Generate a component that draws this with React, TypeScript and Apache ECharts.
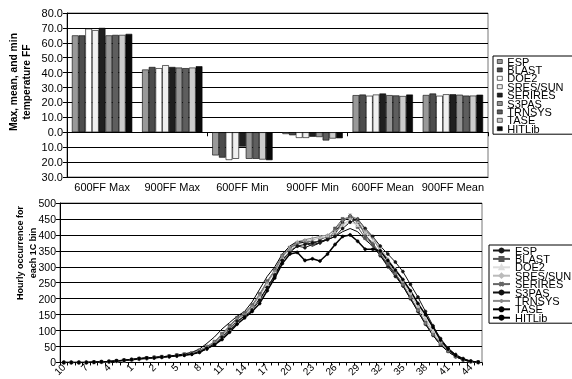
import React, { useEffect, useRef } from 'react';
import * as echarts from 'echarts';

const FONT = '"Liberation Sans", Arial, sans-serif';

const seriesNames = ['ESP', 'BLAST', 'DOE2', 'SRES/SUN', 'SERIRES', 'S3PAS', 'TRNSYS', 'TASE', 'HITLib'];

// Top chart: max / min / mean temperatures
const tempCategories = ['600FF Max', '900FF Max', '600FF Min', '900FF Min', '600FF Mean', '900FF Mean'];
const tempTicks = [-30, 80, 10];
const espTemps = [65.0, 42.1, -15.5, -1.2, 24.9, 25.0];
const blastTemps = [65.0, 43.8, -17.0, -2.0, 25.3, 26.0];
const doe2Temps = [69.5, 43.0, -18.6, -3.8, 24.5, 24.5];
const sresTemps = [68.5, 45.0, -17.8, -3.8, 25.3, 25.5];
const seriresTemps = [70.0, 43.8, -9.6, -3.0, 26.0, 25.5];
const s3pasTemps = [65.0, 43.4, -17.8, -3.2, 24.9, 25.2];
const trnsysTemps = [65.3, 43.0, -17.8, -5.5, 24.7, 24.6];
const taseTemps = [65.3, 43.4, -18.3, -4.2, 24.3, 24.6];
const hitlibTemps = [66.0, 44.3, -18.7, -4.0, 25.3, 25.2];
const tempData = [espTemps, blastTemps, doe2Temps, sresTemps, seriresTemps, s3pasTemps, trnsysTemps, taseTemps, hitlibTemps];

// Bottom chart: hourly occurrence per 1C bin
const binCategories = [-10, -9, -8, -7, -6, -5, -4, -3, -2, -1, 0, 1, 2, 3, 4, 5, 6, 7, 8, 9, 10, 11, 12, 13, 14, 15, 16, 17, 18, 19, 20, 21, 22, 23, 24, 25, 26, 27, 28, 29, 30, 31, 32, 33, 34, 35, 36, 37, 38, 39, 40, 41, 42, 43, 44, 45];
const binTicks = [0, 500, 50];
const espHours = [0, 0, 0, 0, 1, 1, 2, 4, 6, 8, 10, 12, 14, 16, 18, 20, 23, 26, 32, 42, 55, 75, 100, 125, 148, 170, 200, 235, 270, 320, 350, 365, 360, 370, 375, 390, 410, 440, 460, 440, 400, 370, 335, 300, 270, 240, 200, 160, 120, 85, 55, 35, 18, 8, 3, 0];
const blastHours = [0, 0, 0, 0, 1, 2, 3, 5, 7, 9, 12, 14, 16, 18, 20, 23, 26, 30, 38, 50, 65, 90, 115, 140, 155, 180, 215, 255, 290, 335, 360, 375, 380, 370, 385, 395, 420, 450, 455, 425, 390, 370, 340, 310, 280, 245, 205, 165, 125, 88, 58, 36, 19, 9, 3, 1];
const doe2Hours = [0, 0, 0, 0, 0, 1, 2, 4, 6, 8, 11, 13, 15, 17, 19, 22, 25, 28, 34, 46, 58, 80, 105, 130, 148, 172, 205, 245, 285, 330, 360, 380, 385, 390, 395, 400, 410, 430, 440, 430, 405, 385, 355, 325, 295, 260, 220, 180, 140, 100, 68, 45, 25, 13, 5, 1];
const sresHours = [0, 0, 0, 0, 1, 2, 3, 5, 7, 9, 12, 14, 16, 18, 20, 22, 25, 29, 36, 48, 62, 85, 110, 135, 150, 175, 210, 250, 285, 325, 350, 370, 380, 385, 390, 395, 405, 430, 450, 440, 410, 390, 360, 325, 290, 255, 215, 175, 135, 95, 62, 40, 22, 11, 4, 1];
const seriresHours = [0, 0, 0, 0, 1, 2, 3, 5, 7, 9, 12, 14, 15, 17, 19, 22, 25, 28, 35, 48, 62, 88, 112, 138, 152, 178, 212, 252, 288, 332, 358, 372, 378, 380, 378, 388, 402, 440, 462, 445, 400, 375, 340, 308, 278, 242, 202, 162, 122, 88, 58, 37, 19, 9, 3, 1];
const s3pasHours = [0, 0, 0, 0, 1, 2, 3, 5, 7, 9, 12, 14, 15, 17, 19, 22, 24, 27, 33, 45, 58, 80, 105, 130, 145, 165, 195, 235, 275, 320, 345, 365, 370, 375, 380, 385, 395, 420, 440, 450, 420, 395, 365, 340, 315, 285, 245, 205, 160, 115, 75, 45, 25, 12, 4, 1];
const trnsysHours = [0, 0, 0, 0, 1, 2, 3, 5, 7, 9, 12, 14, 16, 18, 20, 23, 26, 30, 37, 50, 64, 88, 112, 138, 152, 178, 212, 252, 288, 335, 360, 378, 385, 390, 395, 400, 415, 445, 460, 450, 415, 390, 350, 315, 280, 245, 205, 163, 123, 88, 58, 36, 19, 9, 3, 1];
const taseHours = [0, 0, 0, 0, 1, 2, 3, 5, 7, 9, 12, 14, 16, 18, 20, 23, 27, 32, 42, 60, 80, 105, 125, 145, 160, 190, 230, 270, 300, 340, 365, 380, 375, 365, 375, 385, 395, 410, 420, 410, 385, 365, 335, 305, 275, 240, 200, 160, 120, 85, 55, 34, 18, 8, 3, 1];
const hitlibHours = [0, 0, 0, 0, 1, 2, 3, 5, 7, 9, 12, 14, 15, 17, 19, 21, 23, 26, 32, 44, 55, 72, 95, 120, 140, 160, 185, 225, 265, 310, 340, 345, 320, 325, 318, 340, 370, 395, 400, 380, 355, 355, 350, 320, 290, 260, 225, 185, 150, 110, 70, 42, 22, 10, 4, 1];
const hourData = [espHours, blastHours, doe2Hours, sresHours, seriresHours, s3pasHours, trnsysHours, taseHours, hitlibHours];

const barColors = ['#999999', '#4d4d4d', '#ffffff', '#f0f0f0', '#1f1f1f', '#959595', '#5e5e5e', '#cccccc', '#0a0a0a'];
const lineColors = ['#1a1a1a', '#555555', '#dddddd', '#bbbbbb', '#666666', '#111111', '#8a8a8a', '#000000', '#000000'];
const crossPath = 'path://M0,0L10,10M10,0L0,10M5,0L5,10';
const plusPath = 'path://M5,0L5,10M0,5L10,5';
const lineSymbols = ['circle', 'rect', 'triangle', 'diamond', crossPath, 'circle', plusPath, 'none', 'circle'];

const LINE_SUFFIX = ' (hourly)';

export default function App() {
  const ref = useRef<HTMLDivElement>(null);

  useEffect(() => {
    if (!ref.current) return;
    const chart = echarts.init(ref.current, undefined, { renderer: 'svg' });

    const absFmt1 = (v: number) => Math.abs(v).toFixed(1);

    const barSeries = seriesNames.map((name, i) => ({
      name,
      type: 'bar',
      xAxisIndex: 0,
      yAxisIndex: 0,
      data: tempData[i],
      barGap: '0%',
      barCategoryGap: '14%',
      itemStyle: { color: barColors[i], borderColor: '#000', borderWidth: 0.6 },
    }));

    const lineSeries = seriesNames.map((name, i) => ({
      name: name + LINE_SUFFIX,
      type: 'line',
      xAxisIndex: 2,
      yAxisIndex: 1,
      data: hourData[i],
      symbol: lineSymbols[i],
      symbolSize: 3,
      showSymbol: lineSymbols[i] !== 'none',
      lineStyle: { color: lineColors[i], width: i === 8 ? 1.5 : 1 },
      itemStyle: { color: lineColors[i], borderColor: lineColors[i], borderWidth: 0.6 },
    }));

    chart.setOption({
      animation: false,
      textStyle: { fontFamily: FONT },
      grid: [
        { left: 67, top: 13, width: 421, height: 164, show: true, borderColor: '#777', borderWidth: 1, backgroundColor: 'transparent' },
        { left: 60, top: 203, width: 422, height: 161, show: true, borderColor: '#777', borderWidth: 1, backgroundColor: 'transparent' },
      ],
      legend: [
        {
          data: seriesNames,
          orient: 'vertical',
          left: 493,
          top: 56,
          icon: 'rect',
          itemWidth: 5,
          itemHeight: 4,
          itemGap: -2.6,
          padding: [0, 30, 0, 4],
          borderColor: '#000',
          borderWidth: 1,
          textStyle: { fontFamily: FONT, fontSize: 11, color: '#000' },
          itemStyle: { borderColor: '#000', borderWidth: 0.6 },
        },
        {
          data: seriesNames.map((n) => n + LINE_SUFFIX),
          orient: 'vertical',
          left: 489,
          top: 245,
          itemWidth: 17,
          itemHeight: 5,
          itemGap: -2.6,
          padding: [0, 30, 0, 3],
          borderColor: '#000',
          borderWidth: 1,
          formatter: (n: string) => n.replace(LINE_SUFFIX, ''),
          textStyle: { fontFamily: FONT, fontSize: 11, color: '#000' },
        },
      ],
      xAxis: [
        {
          gridIndex: 0,
          type: 'category',
          data: tempCategories,
          position: 'bottom',
          axisLine: { onZero: false, lineStyle: { color: '#000', width: 1 } },
          axisTick: { show: false },
          axisLabel: { interval: 0, fontSize: 11, color: '#000', margin: 4, fontFamily: FONT },
        },
        {
          gridIndex: 0,
          type: 'category',
          data: tempCategories,
          position: 'bottom',
          axisLine: { onZero: true, lineStyle: { color: '#000', width: 1 } },
          axisTick: { show: true, length: 4, lineStyle: { color: '#000' } },
          axisLabel: { show: false },
        },
        {
          gridIndex: 1,
          type: 'category',
          data: binCategories,
          boundaryGap: true,
          axisLine: { lineStyle: { color: '#000', width: 1 } },
          axisTick: { show: true, interval: 0, length: 3, lineStyle: { color: '#000' } },
          axisLabel: {
            interval: 2,
            rotate: 45,
            fontSize: 10,
            color: '#000',
            margin: 3,
            fontFamily: FONT,
            formatter: (v: string) => String(Math.abs(Number(v))),
          },
        },
      ],
      yAxis: [
        {
          gridIndex: 0,
          type: 'value',
          min: tempTicks[0],
          max: tempTicks[1],
          interval: tempTicks[2],
          axisLine: { show: true, lineStyle: { color: '#000' } },
          axisTick: { show: true, length: 4, lineStyle: { color: '#000' } },
          axisLabel: { formatter: absFmt1, fontSize: 11, color: '#000', margin: 4, fontFamily: FONT },
          splitLine: { show: true, lineStyle: { color: '#000', width: 1.2 } },
        },
        {
          gridIndex: 1,
          type: 'value',
          min: binTicks[0],
          max: binTicks[1],
          interval: binTicks[2],
          axisLine: { show: true, lineStyle: { color: '#000' } },
          axisTick: { show: true, length: 4, lineStyle: { color: '#000' } },
          axisLabel: { fontSize: 10.5, color: '#000', margin: 4, fontFamily: FONT },
          splitLine: { show: true, lineStyle: { color: '#000', width: 1.2 } },
        },
      ],
      graphic: [
        {
          type: 'text',
          x: 20,
          y: 82,
          rotation: Math.PI / 2,
          style: {
            text: 'Max, mean, and min\ntemperature FF',
            font: `bold 10.3px ${FONT}`,
            fill: '#000',
            align: 'center',
            verticalAlign: 'middle',
            lineHeight: 13,
          },
        },
        {
          type: 'text',
          x: 26,
          y: 253,
          rotation: Math.PI / 2,
          style: {
            text: 'Hourly occurrence for\neach 1C bin',
            font: `bold 9px ${FONT}`,
            fill: '#000',
            align: 'center',
            verticalAlign: 'middle',
            lineHeight: 13,
          },
        },
      ],
      series: [...barSeries, ...lineSeries],
    });

    return () => chart.dispose();
  }, []);

  return <div ref={ref} style={{ position: 'fixed', left: 0, top: 0, width: 572, height: 379 }} />;
}
